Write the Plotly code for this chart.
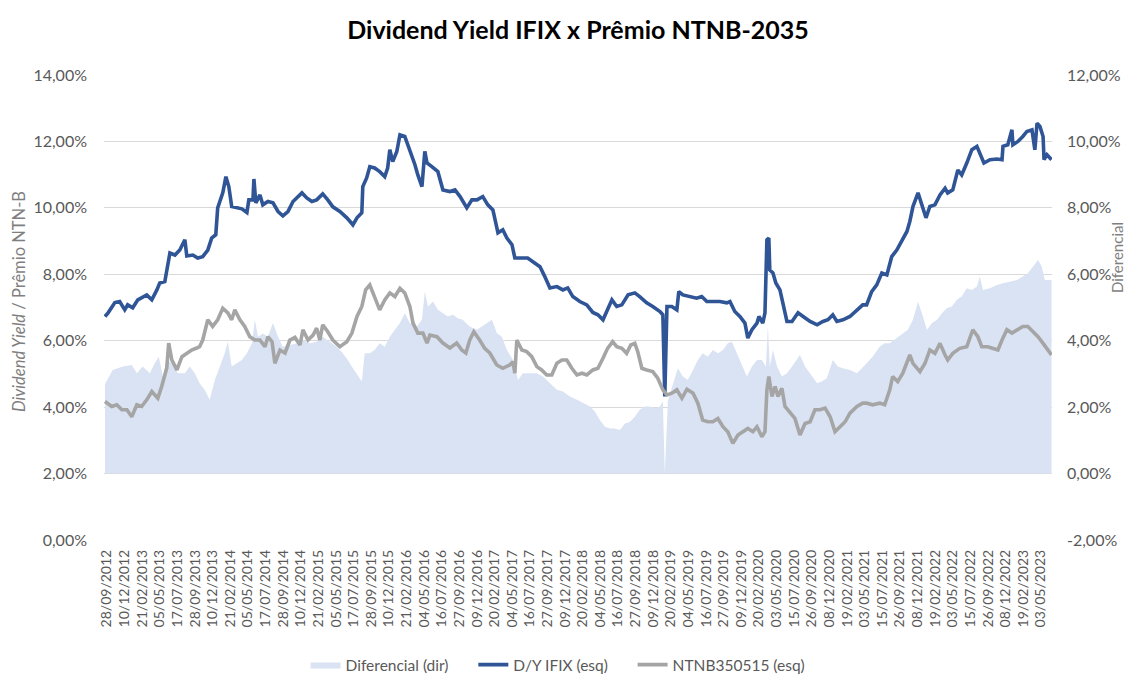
import plotly.graph_objects as go

# ---------------- data ----------------
dy_dates = ["2012-09-20","2012-10-03","2012-10-31","2012-11-20","2012-12-11","2012-12-23","2013-01-13","2013-02-03","2013-03-12","2013-04-02","2013-04-23","2013-05-05","2013-05-26","2013-06-03","2013-06-16","2013-07-07","2013-07-27","2013-08-17","2013-08-25","2013-09-19","2013-10-09","2013-10-30","2013-11-20","2013-12-06","2013-12-23","2013-12-31","2014-01-21","2014-02-03","2014-02-15","2014-02-27","2014-03-20","2014-04-10","2014-05-01","2014-05-09","2014-05-26","2014-05-30","2014-06-07","2014-06-24","2014-07-06","2014-07-27","2014-08-17","2014-09-07","2014-09-27","2014-10-18","2014-11-08","2014-11-16","2014-12-15","2015-01-04","2015-01-25","2015-02-14","2015-03-11","2015-04-01","2015-04-22","2015-05-21","2015-06-19","2015-07-14","2015-07-31","2015-08-20","2015-08-24","2015-09-09","2015-09-22","2015-10-12","2015-11-02","2015-11-23","2015-12-05","2015-12-14","2015-12-26","2016-01-12","2016-01-25","2016-02-14","2016-03-06","2016-03-27","2016-04-08","2016-04-25","2016-05-07","2016-05-16","2016-06-05","2016-06-30","2016-07-21","2016-08-19","2016-09-09","2016-09-30","2016-10-28","2016-11-18","2016-12-09","2017-01-02","2017-01-23","2017-02-13","2017-03-06","2017-03-26","2017-04-12","2017-05-03","2017-05-15","2017-06-13","2017-07-07","2017-08-05","2017-08-27","2017-09-16","2017-10-07","2017-11-05","2017-11-30","2017-12-20","2018-01-10","2018-02-08","2018-03-09","2018-04-03","2018-04-24","2018-05-15","2018-05-31","2018-06-21","2018-07-11","2018-08-01","2018-08-27","2018-09-24","2018-10-14","2018-11-12","2018-12-07","2019-01-06","2019-01-18","2019-01-26","2019-02-04","2019-02-24","2019-03-17","2019-03-25","2019-04-11","2019-05-10","2019-06-07","2019-06-28","2019-07-19","2019-08-13","2019-09-11","2019-10-10","2019-10-23","2019-11-12","2019-12-03","2019-12-24","2020-01-05","2020-01-22","2020-02-12","2020-02-20","2020-03-07","2020-03-16","2020-03-24","2020-04-01","2020-04-05","2020-04-18","2020-04-30","2020-05-17","2020-05-29","2020-06-15","2020-07-06","2020-07-31","2020-08-21","2020-09-19","2020-10-18","2020-11-11","2020-12-02","2020-12-22","2021-01-08","2021-02-02","2021-03-03","2021-04-01","2021-04-25","2021-05-11","2021-06-01","2021-06-22","2021-07-13","2021-08-03","2021-08-23","2021-09-13","2021-10-04","2021-10-25","2021-11-06","2021-11-19","2021-12-10","2021-12-26","2022-01-12","2022-01-28","2022-02-18","2022-03-11","2022-04-01","2022-04-12","2022-05-03","2022-05-24","2022-06-09","2022-06-30","2022-07-21","2022-08-11","2022-08-23","2022-09-09","2022-10-04","2022-11-02","2022-11-23","2022-11-27","2022-12-17","2023-01-03","2023-01-07","2023-01-28","2023-02-17","2023-03-06","2023-03-27","2023-04-08","2023-04-17","2023-04-29","2023-05-12","2023-05-16","2023-05-28","2023-06-16"]
dy_values = [6.73,6.84,7.15,7.18,6.93,7.08,6.99,7.23,7.38,7.23,7.53,7.74,7.78,8.13,8.64,8.58,8.73,9.04,8.55,8.58,8.49,8.53,8.73,9.09,9.19,10.00,10.45,10.94,10.64,10.04,10.00,9.97,9.86,10.24,10.24,10.87,10.15,10.39,10.09,10.19,10.15,9.89,9.76,9.89,10.19,10.24,10.45,10.30,10.19,10.24,10.42,10.24,10.03,9.89,9.70,9.49,9.70,9.85,10.64,10.90,11.24,11.20,11.09,10.94,11.20,11.75,11.39,11.70,12.20,12.15,11.75,11.30,10.99,10.64,11.70,11.35,11.24,11.09,10.54,10.49,10.54,10.34,10.00,10.24,10.24,10.34,10.09,9.94,9.25,9.34,9.09,8.89,8.49,8.49,8.49,8.34,8.23,7.93,7.59,7.63,7.53,7.59,7.33,7.18,7.08,6.85,6.78,6.63,6.88,7.23,7.03,7.08,7.38,7.44,7.33,7.14,7.03,6.88,6.78,4.32,7.03,7.03,6.93,7.48,7.38,7.33,7.28,7.33,7.18,7.18,7.18,7.14,7.18,6.88,6.73,6.53,6.08,6.33,6.53,6.73,6.53,6.84,9.04,9.09,8.13,8.04,7.74,7.53,7.18,6.58,6.58,6.84,6.73,6.58,6.48,6.58,6.63,6.78,6.58,6.63,6.73,6.93,7.08,7.08,7.48,7.68,8.04,7.98,8.53,8.73,8.99,9.29,9.59,10.04,10.45,10.09,9.70,10.04,10.09,10.39,10.59,10.45,10.54,11.14,10.99,11.35,11.75,11.85,11.65,11.35,11.45,11.47,11.45,11.85,11.90,12.35,11.90,12.00,12.15,12.30,12.35,11.75,12.55,12.45,12.15,11.45,11.60,11.45]

ntnb_dates = ["2012-09-20","2012-10-18","2012-11-08","2012-11-29","2012-12-20","2013-01-09","2013-01-30","2013-02-19","2013-03-12","2013-04-02","2013-04-27","2013-05-13","2013-06-03","2013-06-11","2013-06-24","2013-07-15","2013-08-05","2013-08-25","2013-09-14","2013-10-05","2013-10-17","2013-10-30","2013-11-20","2013-12-10","2013-12-31","2014-01-21","2014-02-11","2014-02-27","2014-03-12","2014-04-02","2014-04-22","2014-05-13","2014-06-03","2014-06-24","2014-07-15","2014-07-27","2014-08-13","2014-08-25","2014-09-15","2014-10-06","2014-10-26","2014-11-16","2014-12-07","2014-12-19","2015-01-09","2015-01-30","2015-02-14","2015-02-27","2015-03-11","2015-04-01","2015-04-22","2015-05-21","2015-06-19","2015-07-10","2015-07-31","2015-08-20","2015-09-05","2015-09-22","2015-10-12","2015-11-02","2015-11-23","2015-12-14","2016-01-04","2016-01-25","2016-02-14","2016-03-06","2016-03-19","2016-04-08","2016-04-29","2016-05-16","2016-05-28","2016-06-26","2016-07-21","2016-08-19","2016-09-16","2016-10-07","2016-10-24","2016-11-09","2016-11-26","2016-12-13","2016-12-20","2017-01-10","2017-01-31","2017-03-01","2017-03-26","2017-04-24","2017-05-07","2017-05-15","2017-05-23","2017-06-13","2017-07-03","2017-07-24","2017-08-14","2017-09-03","2017-09-24","2017-10-15","2017-11-05","2017-11-26","2017-12-16","2018-01-06","2018-01-27","2018-02-17","2018-03-09","2018-04-03","2018-04-24","2018-05-15","2018-06-03","2018-06-24","2018-07-11","2018-08-01","2018-08-21","2018-09-07","2018-09-24","2018-10-06","2018-10-23","2018-11-12","2018-12-07","2018-12-28","2019-01-18","2019-02-04","2019-02-24","2019-03-17","2019-04-07","2019-04-28","2019-05-23","2019-06-12","2019-07-02","2019-07-23","2019-08-13","2019-09-03","2019-09-24","2019-10-14","2019-11-04","2019-11-25","2019-12-15","2020-01-05","2020-01-26","2020-02-12","2020-03-03","2020-03-16","2020-03-24","2020-04-01","2020-04-14","2020-04-27","2020-05-09","2020-05-25","2020-06-07","2020-06-28","2020-07-18","2020-08-08","2020-08-29","2020-09-19","2020-10-09","2020-10-30","2020-11-20","2020-12-11","2020-12-31","2021-01-21","2021-02-11","2021-03-03","2021-04-01","2021-04-25","2021-05-11","2021-06-05","2021-07-04","2021-07-25","2021-08-15","2021-08-27","2021-09-17","2021-10-08","2021-11-06","2021-11-19","2021-12-18","2022-01-08","2022-01-28","2022-02-18","2022-03-11","2022-04-01","2022-04-12","2022-05-03","2022-06-01","2022-06-30","2022-07-25","2022-08-15","2022-08-31","2022-09-25","2022-10-16","2022-11-06","2022-11-23","2022-12-13","2023-01-03","2023-01-24","2023-02-17","2023-03-10","2023-03-31","2023-04-21","2023-05-12","2023-06-16"]
ntnb_values = [4.17,4.02,4.07,3.92,3.92,3.71,4.07,4.02,4.22,4.47,4.27,4.62,5.18,5.93,5.42,5.12,5.52,5.63,5.72,5.78,5.82,6.02,6.63,6.43,6.63,6.98,6.84,6.63,6.93,6.63,6.43,6.12,6.02,6.02,5.82,6.12,5.97,5.32,5.72,5.63,6.02,6.10,5.87,6.33,6.02,6.17,6.38,6.02,6.48,6.27,6.02,5.82,5.97,6.23,6.73,7.03,7.53,7.68,7.33,6.93,7.23,7.44,7.33,7.58,7.44,7.03,6.53,6.23,6.23,5.93,6.17,6.12,5.93,5.78,5.93,5.72,5.63,6.02,6.27,6.12,6.02,5.77,5.63,5.27,5.17,5.27,5.37,5.02,6.02,5.72,5.67,5.52,5.22,5.12,4.97,4.97,5.32,5.42,5.42,5.17,4.97,5.02,4.97,5.12,5.17,5.47,5.77,5.97,5.82,5.77,5.62,5.87,5.92,5.67,5.17,5.12,5.07,4.87,4.52,4.37,4.42,4.52,4.27,4.54,4.42,4.12,3.61,3.56,3.56,3.66,3.41,3.26,2.91,3.16,3.26,3.36,3.26,3.41,3.11,3.26,4.52,4.92,4.32,4.62,4.32,4.57,4.02,3.82,3.66,3.16,3.51,3.56,3.92,3.92,3.97,3.71,3.26,3.41,3.56,3.82,4.02,4.12,4.12,4.07,4.12,4.07,4.52,4.92,4.77,5.02,5.57,5.32,5.07,5.32,5.72,5.62,5.92,5.57,5.42,5.62,5.77,5.82,6.33,6.12,5.82,5.82,5.77,5.72,6.02,6.33,6.23,6.33,6.43,6.43,6.27,6.12,5.92,5.57]

dif_dates = ["2012-09-20","2012-10-22","2012-12-03","2013-01-09","2013-01-30","2013-02-23","2013-03-25","2013-04-14","2013-05-01","2013-05-18","2013-06-03","2013-06-24","2013-07-19","2013-08-17","2013-09-06","2013-09-27","2013-10-17","2013-11-07","2013-11-28","2013-12-19","2014-01-09","2014-01-29","2014-02-11","2014-02-27","2014-03-20","2014-04-10","2014-05-01","2014-05-22","2014-06-03","2014-06-16","2014-07-06","2014-07-27","2014-08-17","2014-09-07","2014-09-27","2014-10-26","2014-11-24","2014-12-19","2015-01-16","2015-02-14","2015-03-11","2015-04-09","2015-05-08","2015-06-02","2015-06-23","2015-07-14","2015-08-04","2015-08-20","2015-09-01","2015-09-22","2015-10-12","2015-11-02","2015-11-23","2015-12-14","2016-01-04","2016-01-25","2016-02-14","2016-03-06","2016-04-04","2016-04-25","2016-05-07","2016-05-20","2016-06-10","2016-06-30","2016-07-21","2016-08-10","2016-09-01","2016-09-20","2016-10-11","2016-11-09","2016-12-09","2017-01-02","2017-02-09","2017-03-01","2017-03-22","2017-04-12","2017-05-07","2017-05-28","2017-06-17","2017-07-16","2017-08-14","2017-09-08","2017-10-07","2017-11-05","2017-11-30","2017-12-29","2018-01-27","2018-02-21","2018-03-22","2018-04-11","2018-05-02","2018-05-23","2018-06-13","2018-07-03","2018-07-24","2018-08-14","2018-09-04","2018-09-24","2018-10-14","2018-11-04","2018-11-25","2018-12-16","2019-01-06","2019-01-18","2019-01-26","2019-02-08","2019-03-21","2019-04-11","2019-05-01","2019-05-23","2019-06-12","2019-07-02","2019-07-23","2019-08-13","2019-09-03","2019-09-24","2019-10-14","2019-10-31","2019-11-21","2019-12-11","2020-01-01","2020-01-22","2020-02-12","2020-03-03","2020-03-20","2020-03-28","2020-04-05","2020-04-18","2020-05-05","2020-05-25","2020-06-15","2020-07-06","2020-07-26","2020-08-08","2020-08-29","2020-09-19","2020-10-18","2020-11-06","2020-11-27","2020-12-22","2021-01-12","2021-02-02","2021-03-03","2021-04-01","2021-04-25","2021-05-11","2021-06-05","2021-07-04","2021-07-25","2021-08-15","2021-09-13","2021-10-08","2021-10-29","2021-11-19","2021-12-10","2021-12-26","2022-01-16","2022-02-06","2022-02-27","2022-03-19","2022-04-08","2022-04-29","2022-05-20","2022-06-09","2022-06-30","2022-07-21","2022-08-11","2022-08-23","2022-09-05","2022-10-04","2022-11-02","2022-11-27","2022-12-26","2023-01-24","2023-02-17","2023-03-10","2023-03-31","2023-04-21","2023-05-07","2023-05-19","2023-06-16"]
dif_values = [2.70,3.12,3.22,3.27,3.02,3.22,3.02,3.32,3.52,2.92,3.42,3.32,3.02,3.02,3.22,3.02,2.72,2.52,2.22,2.82,3.22,3.62,3.97,3.22,3.32,3.42,3.62,3.92,4.63,4.12,4.22,4.12,4.53,4.12,3.82,3.87,3.92,4.02,3.92,3.97,4.12,3.97,3.82,3.62,3.42,3.17,2.92,2.77,3.62,3.62,3.72,3.92,3.82,4.12,4.33,4.53,4.83,4.53,4.43,4.63,5.48,5.03,5.18,4.93,4.83,4.73,4.78,4.68,4.63,4.43,4.33,4.45,4.63,4.23,4.12,3.72,3.42,2.82,3.02,3.02,3.02,2.92,2.72,2.52,2.47,2.32,2.22,2.12,2.02,1.87,1.61,1.41,1.36,1.36,1.31,1.51,1.56,1.71,1.92,2.02,2.02,1.97,2.02,2.17,0.00,2.20,3.17,2.92,2.82,3.12,3.42,3.62,3.52,3.72,3.62,3.72,3.92,3.97,3.62,3.32,2.92,3.22,3.42,3.42,3.22,4.43,3.22,3.72,3.22,2.92,3.02,3.22,3.42,3.57,3.22,3.02,2.72,2.77,2.87,3.42,3.22,3.17,3.12,3.02,3.22,3.32,3.52,3.82,3.92,3.92,4.08,4.23,4.33,4.63,5.18,4.83,4.33,4.53,4.63,4.83,4.98,5.03,5.23,5.33,5.58,5.53,5.63,5.93,5.53,5.58,5.68,5.73,5.78,5.83,5.93,6.03,6.23,6.43,6.23,5.83,5.83]

x_tick_dates = ["2012-09-28","2012-12-10","2013-02-21","2013-05-05","2013-07-17","2013-09-28","2013-12-10","2014-02-21","2014-05-05","2014-07-17","2014-09-28","2014-12-10","2015-02-21","2015-05-05","2015-07-17","2015-09-28","2015-12-10","2016-02-21","2016-05-04","2016-07-16","2016-09-27","2016-12-09","2017-02-20","2017-05-04","2017-07-16","2017-09-27","2017-12-09","2018-02-20","2018-05-04","2018-07-16","2018-09-27","2018-12-09","2019-02-20","2019-05-04","2019-07-16","2019-09-27","2019-12-09","2020-02-20","2020-05-03","2020-07-15","2020-09-26","2020-12-08","2021-02-19","2021-05-03","2021-07-15","2021-09-26","2021-12-08","2022-02-19","2022-05-03","2022-07-15","2022-09-26","2022-12-08","2023-02-19","2023-05-03"]
x_tick_labels = ["28/09/2012","10/12/2012","21/02/2013","05/05/2013","17/07/2013","28/09/2013","10/12/2013","21/02/2014","05/05/2014","17/07/2014","28/09/2014","10/12/2014","21/02/2015","05/05/2015","17/07/2015","28/09/2015","10/12/2015","21/02/2016","04/05/2016","16/07/2016","27/09/2016","09/12/2016","20/02/2017","04/05/2017","16/07/2017","27/09/2017","09/12/2017","20/02/2018","04/05/2018","16/07/2018","27/09/2018","09/12/2018","20/02/2019","04/05/2019","16/07/2019","27/09/2019","09/12/2019","20/02/2020","03/05/2020","15/07/2020","26/09/2020","08/12/2020","19/02/2021","03/05/2021","15/07/2021","26/09/2021","08/12/2021","19/02/2022","03/05/2022","15/07/2022","26/09/2022","08/12/2022","19/02/2023","03/05/2023"]

left_tick_vals = [0, 2, 4, 6, 8, 10, 12, 14]
left_tick_text = ["0,00%", "2,00%", "4,00%", "6,00%", "8,00%", "10,00%", "12,00%", "14,00%"]
right_tick_vals = [-2, 0, 2, 4, 6, 8, 10, 12]
right_tick_text = ["-2,00%", "0,00%", "2,00%", "4,00%", "6,00%", "8,00%", "10,00%", "12,00%"]

series_names = ["Diferencial (dir)", "D/Y IFIX (esq)", "NTNB350515 (esq)"]

FONT = "Lato"
TICK_COLOR = "#595959"
PAD = "\u00a0" * 5  # spacing between legend entries

fig = go.Figure()
fig.add_trace(go.Scatter(
    x=dif_dates, y=dif_values, name=series_names[0] + PAD, yaxis="y",
    mode="lines", fill="tozeroy", fillcolor="#DAE3F3",
    line=dict(width=0, color="#DAE3F3"), hoverinfo="skip"))
fig.add_trace(go.Scatter(
    x=dy_dates, y=dy_values, name=series_names[1] + PAD, yaxis="y2",
    mode="lines", line=dict(color="#2F5597", width=3.6)))
fig.add_trace(go.Scatter(
    x=ntnb_dates, y=ntnb_values, name=series_names[2], yaxis="y2",
    mode="lines", line=dict(color="#A5A5A5", width=3.6)))

fig.update_layout(
    template="none",
    width=1129, height=675,
    paper_bgcolor="white", plot_bgcolor="white",
    margin=dict(l=104, r=77, t=75, b=135, autoexpand=False),
    font=dict(family=FONT, color=TICK_COLOR),
    title=dict(text="<b>Dividend Yield IFIX x Prêmio NTNB-2035</b>",
               x=0.5, xref="paper", xanchor="center",
               y=1 - 30 / 675, yref="container", yanchor="middle",
               font=dict(family=FONT, size=25, color="#000000")),
    xaxis=dict(type="date", range=["2012-09-16", "2023-06-18"], automargin=False,
               tickmode="array", tickvals=x_tick_dates, ticktext=x_tick_labels,
               tickangle=-90, tickfont=dict(size=14, color=TICK_COLOR),
               showgrid=False, zeroline=False, showline=False,
               ticks="", ticklabelstandoff=6),
    yaxis=dict(side="right", range=[-2, 12], automargin=False,
               tickmode="array", tickvals=right_tick_vals, ticktext=right_tick_text,
               tickfont=dict(size=16, color=TICK_COLOR),
               showgrid=True, gridcolor="#D9D9D9", gridwidth=1,
               zeroline=False, showline=False, ticks="", ticklabelstandoff=14),
    yaxis2=dict(side="left", overlaying="y", range=[0, 14], automargin=False,
                tickmode="array", tickvals=left_tick_vals, ticktext=left_tick_text,
                tickfont=dict(size=16, color=TICK_COLOR),
                showgrid=False, zeroline=False, showline=False, ticks="",
                ticklabelstandoff=16),
    legend=dict(orientation="h", x=0.479, xanchor="center",
                yref="container", y=1 - 665 / 675, yanchor="middle",
                font=dict(size=15.5, color=TICK_COLOR), bgcolor="rgba(0,0,0,0)",
                traceorder="normal"),
    showlegend=True,
)

fig.add_annotation(text="<i>Dividend Yield</i> / Prêmio NTN-B",
                   xref="paper", yref="paper", x=(19 - 104) / 948, y=(540 - 302) / 465,
                   textangle=-90, showarrow=False, xanchor="center", yanchor="middle",
                   font=dict(family=FONT, size=16.5, color="#7F7F7F"))
fig.add_annotation(text="Diferencial",
                   xref="paper", yref="paper", x=(1117 - 104) / 948, y=(540 - 258) / 465,
                   textangle=-90, showarrow=False, xanchor="center", yanchor="middle",
                   font=dict(family=FONT, size=15, color="#7F7F7F"))

fig.write_html("out.html",
               config={"displayModeBar": False},
               post_script="document.body.style.margin='0px';document.body.style.overflow='hidden';")
